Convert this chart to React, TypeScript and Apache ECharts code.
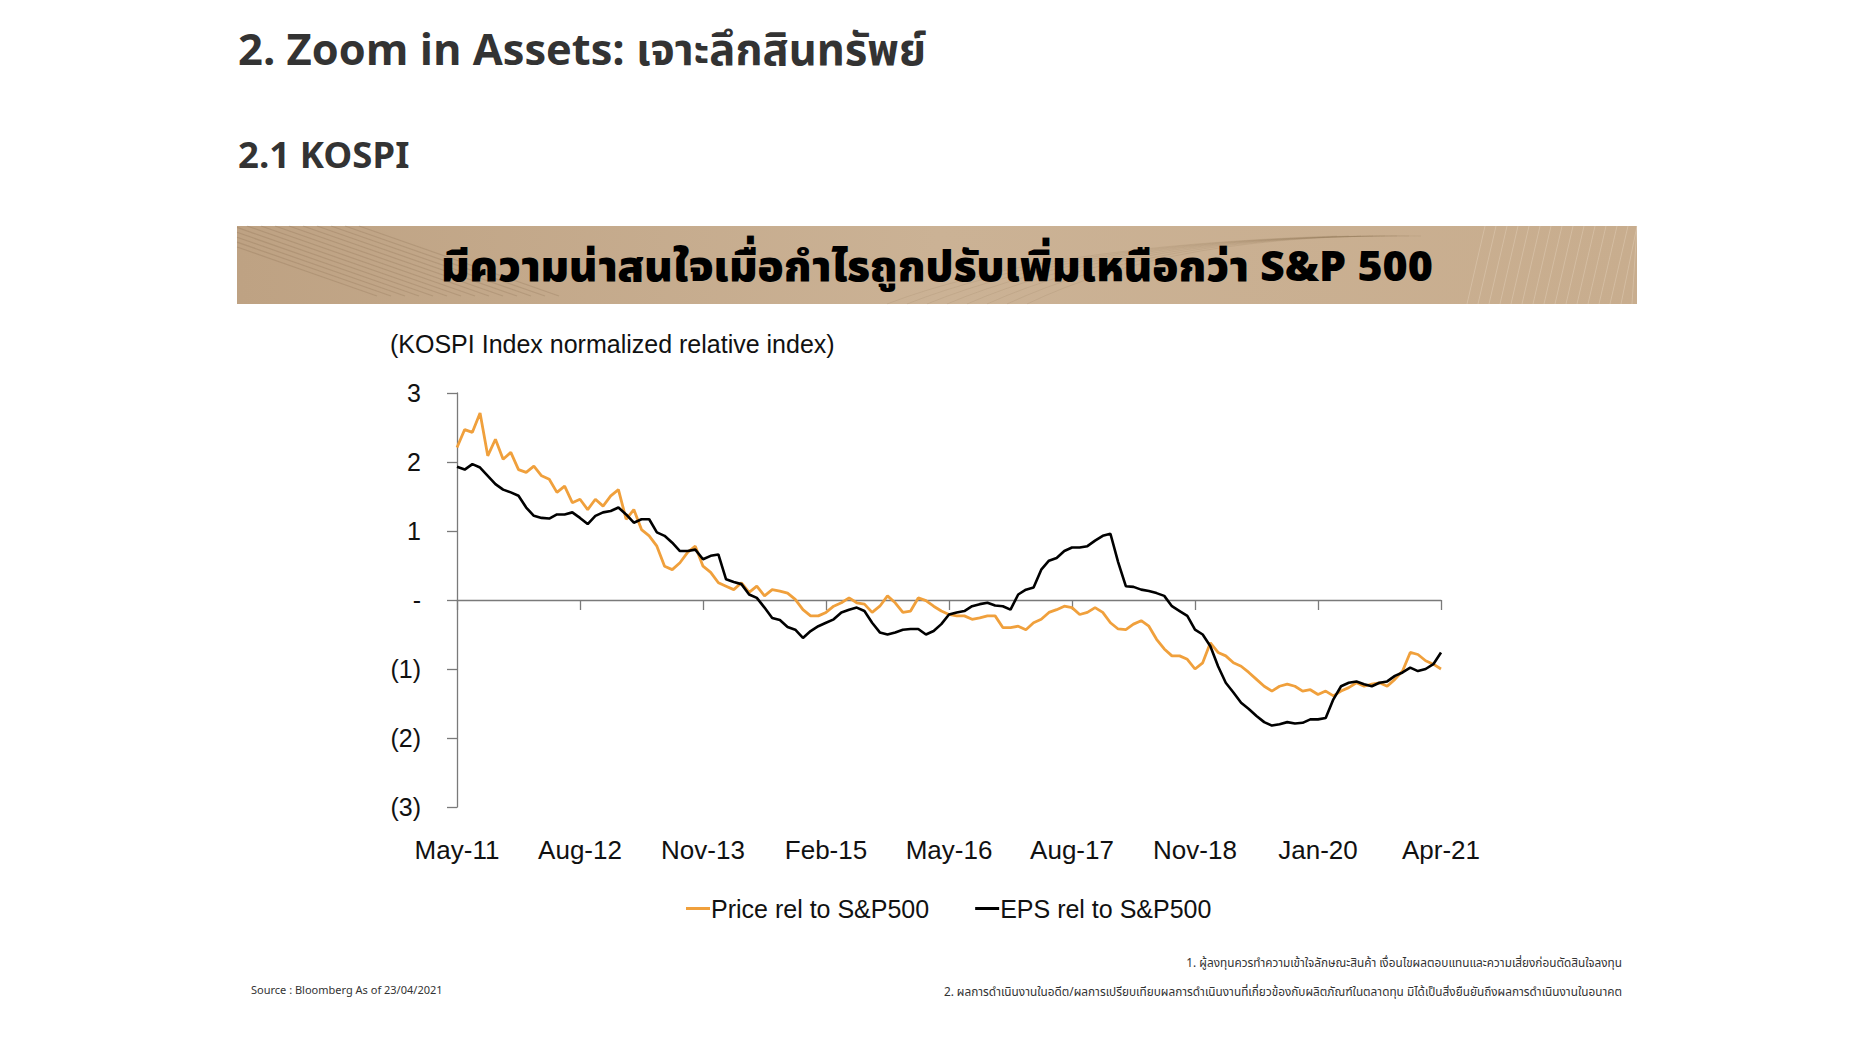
import React, { useEffect, useRef } from 'react';
import * as echarts from 'echarts';

const tickLabels = ['May-11', 'Aug-12', 'Nov-13', 'Feb-15', 'May-16', 'Aug-17', 'Nov-18', 'Jan-20', 'Apr-21'];
const yTickLabels: Record<string, string> = { '3': '3', '2': '2', '1': '1', '0': '-', '-1': '(1)', '-2': '(2)', '-3': '(3)' };
const pointsPerTick = 16;
const seriesNames = ['Price rel to S&P500', 'EPS rel to S&P500'];

const priceRel = [
  2.21, 2.47, 2.43, 2.71, 2.09, 2.33, 2.04, 2.14, 1.89, 1.85, 1.94, 1.80, 1.75, 1.56, 1.65, 1.41,
  1.46, 1.31, 1.46, 1.36, 1.51, 1.60, 1.17, 1.31, 1.02, 0.93, 0.78, 0.49, 0.44, 0.54, 0.69, 0.78,
  0.49, 0.40, 0.25, 0.20, 0.15, 0.25, 0.11, 0.20, 0.06, 0.15, 0.13, 0.10, 0.01, -0.14, -0.23, -0.23,
  -0.18, -0.09, -0.04, 0.03, -0.04, -0.06, -0.18, -0.09, 0.06, -0.04, -0.18, -0.16, 0.03, -0.01, -0.09, -0.16,
  -0.21, -0.23, -0.23, -0.28, -0.26, -0.23, -0.23, -0.40, -0.40, -0.38, -0.43, -0.33, -0.28, -0.18, -0.14, -0.09,
  -0.11, -0.21, -0.18, -0.11, -0.18, -0.33, -0.42, -0.43, -0.35, -0.30, -0.38, -0.57, -0.71, -0.81, -0.81, -0.86,
  -1.00, -0.91, -0.62, -0.76, -0.81, -0.91, -0.96, -1.05, -1.15, -1.25, -1.32, -1.25, -1.22, -1.25, -1.32, -1.30,
  -1.37, -1.32, -1.39, -1.32, -1.27, -1.20, -1.25, -1.22, -1.20, -1.25, -1.15, -1.03, -0.76, -0.79, -0.88, -0.93,
  -1.00,
];

const epsRel = [
  1.93, 1.89, 1.97, 1.92, 1.80, 1.68, 1.60, 1.56, 1.51, 1.34, 1.22, 1.19, 1.18, 1.24, 1.24, 1.27,
  1.19, 1.10, 1.22, 1.27, 1.29, 1.34, 1.24, 1.12, 1.17, 1.17, 0.98, 0.93, 0.83, 0.71, 0.71, 0.73,
  0.59, 0.64, 0.66, 0.30, 0.26, 0.23, 0.08, 0.03, -0.11, -0.26, -0.29, -0.39, -0.43, -0.55, -0.45, -0.38,
  -0.33, -0.28, -0.18, -0.14, -0.11, -0.16, -0.33, -0.47, -0.50, -0.47, -0.43, -0.42, -0.42, -0.50, -0.45, -0.35,
  -0.21, -0.18, -0.16, -0.09, -0.06, -0.04, -0.08, -0.09, -0.14, 0.08, 0.15, 0.18, 0.44, 0.57, 0.61, 0.71,
  0.76, 0.76, 0.78, 0.86, 0.93, 0.96, 0.55, 0.20, 0.19, 0.15, 0.13, 0.10, 0.06, -0.09, -0.16, -0.23,
  -0.43, -0.50, -0.67, -0.96, -1.20, -1.34, -1.49, -1.58, -1.68, -1.77, -1.82, -1.80, -1.77, -1.79, -1.78, -1.73,
  -1.73, -1.71, -1.44, -1.25, -1.20, -1.18, -1.22, -1.25, -1.20, -1.18, -1.10, -1.05, -0.98, -1.03, -1.00, -0.93,
  -0.76,
];

const titleText = '2. Zoom in Assets: เจาะลึกสินทรัพย์';
const subTitleText = '2.1 KOSPI';
const bannerText = 'มีความน่าสนใจเมื่อกำไรถูกปรับเพิ่มเหนือกว่า S&P 500';
const axisTitleText = '(KOSPI Index normalized relative index)';
const sourceText = 'Source : Bloomberg As of 23/04/2021';
const note1 = '1. ผู้ลงทุนควรทำความเข้าใจลักษณะสินค้า เงื่อนไขผลตอบแทนและความเสี่ยงก่อนตัดสินใจลงทุน';
const note2 = '2. ผลการดำเนินงานในอดีต/ผลการเปรียบเทียบผลการดำเนินงานที่เกี่ยวข้องกับผลิตภัณฑ์ในตลาดทุน มิได้เป็นสิ่งยืนยันถึงผลการดำเนินงานในอนาคต';

const W = 1867;
const H = 1037;
const chartFont = '"Liberation Sans", Arial, Helvetica, sans-serif';
const thaiFont = '"Noto Sans Thai", "Noto Sans", Roboto, sans-serif';

function bannerLines() {
  const els: any[] = [];
  const x0 = 237, y0 = 226, w = 1400, h = 78;
  for (let k = 0; k < 14; k++) {
    const sx = x0 - 60 + k * 14;
    els.push({
      type: 'line', silent: true,
      shape: { x1: Math.max(x0, sx), y1: y0 + (Math.max(x0, sx) - sx) * 0.35, x2: sx + 200, y2: y0 + 200 * 0.35 },
      style: { stroke: 'rgba(110,85,55,0.18)', lineWidth: 1.2 },
    });
  }
  for (let k = 0; k < 16; k++) {
    const bx = x0 + w - 170 + k * 11;
    els.push({
      type: 'line', silent: true,
      shape: { x1: bx, y1: y0 + h, x2: Math.min(x0 + w, bx + 18), y2: y0 },
      style: { stroke: 'rgba(255,245,230,0.22)', lineWidth: 1 },
    });
  }
  for (let k = 0; k < 8; k++) {
    els.push({
      type: 'bezierCurve', silent: true,
      shape: { x1: x0 + 650 + k * 20, y1: y0 + h, x2: x0 + 1100 + k * 12, y2: y0 + 10, cpx1: x0 + 800 + k * 20, cpy1: y0 + 20 - k * 2 },
      style: { stroke: 'rgba(120,95,65,0.12)', lineWidth: 1, fill: null },
    });
  }
  return els;
}

export default function App() {
  const ref = useRef<HTMLDivElement>(null);
  useEffect(() => {
    document.body.style.margin = '0';
    if (!ref.current) return;
    const chart = echarts.init(ref.current, undefined, { renderer: 'svg' });
    const toPairs = (arr: number[]) => arr.map((v, i) => [i / pointsPerTick, v]);
    chart.setOption({
      animation: false,
      backgroundColor: '#ffffff',
      grid: { left: 457, top: 393, width: 984, height: 414, containLabel: false },
      legend: {
        data: seriesNames,
        left: 686,
        top: 896,
        icon: 'rect',
        itemWidth: 24,
        itemHeight: 3,
        itemGap: 46,
        padding: 0,
        textStyle: { fontSize: 25, color: '#111', fontFamily: chartFont, padding: [0, 0, 0, -4] },
      },
      xAxis: [
        {
          type: 'value', min: 0, max: 8, interval: 1, position: 'bottom',
          axisLine: { show: false, onZero: false },
          axisTick: { show: false },
          splitLine: { show: false },
          axisLabel: {
            formatter: (v: number) => tickLabels[Math.round(v)] ?? '',
            fontSize: 26, color: '#111', fontFamily: chartFont, margin: 30,
          },
        },
        {
          type: 'value', min: 0, max: 8, interval: 1, position: 'top',
          axisLine: { show: true, onZero: true, lineStyle: { color: '#7a7a7a', width: 1.3 } },
          axisTick: { show: true, inside: true, length: 10, lineStyle: { color: '#7a7a7a', width: 1.3 } },
          splitLine: { show: false },
          axisLabel: { show: false },
        },
      ],
      yAxis: {
        type: 'value', min: -3, max: 3, interval: 1,
        axisLine: { show: true, onZero: false, lineStyle: { color: '#7a7a7a', width: 1.3 } },
        axisTick: { show: true, length: 10, lineStyle: { color: '#7a7a7a', width: 1.3 } },
        splitLine: { show: false },
        axisLabel: {
          formatter: (v: number) => yTickLabels[String(v)] ?? '',
          fontSize: 25, color: '#111', fontFamily: chartFont, margin: 36,
        },
      },
      series: [
        {
          name: seriesNames[0], type: 'line', xAxisIndex: 1, data: toPairs(priceRel),
          showSymbol: false, lineStyle: { color: '#F0A03C', width: 2.8 }, itemStyle: { color: '#F0A03C' },
        },
        {
          name: seriesNames[1], type: 'line', xAxisIndex: 1, data: toPairs(epsRel),
          showSymbol: false, lineStyle: { color: '#000000', width: 2.6 }, itemStyle: { color: '#000000' },
        },
      ],
      graphic: [
        {
          type: 'text', left: 238, top: 30,
          style: { text: titleText, fontSize: 43.5, fontWeight: 'bold', fill: '#333333', fontFamily: thaiFont },
        },
        {
          type: 'text', left: 238, top: 138,
          style: { text: subTitleText, fontSize: 36.5, fontWeight: 'bold', fill: '#333333', fontFamily: thaiFont },
        },
        {
          type: 'rect', left: 237, top: 226, silent: true,
          shape: { width: 1400, height: 78 },
          style: {
            fill: new echarts.graphic.LinearGradient(0, 0, 1, 0, [
              { offset: 0, color: '#bea283' },
              { offset: 0.5, color: '#cbb295' },
              { offset: 1, color: '#c8ad8e' },
            ]),
          },
        },
        ...bannerLines(),
        {
          type: 'text', x: 937, y: 267,
          style: {
            text: bannerText, fontSize: 43, fontWeight: 900, fill: '#000000', fontFamily: thaiFont,
            align: 'center', verticalAlign: 'middle',
          },
        },
        {
          type: 'text', left: 390, top: 331,
          style: { text: axisTitleText, fontSize: 25, fill: '#111', fontFamily: chartFont },
        },
        {
          type: 'text', left: 251, top: 985,
          style: { text: sourceText, fontSize: 11, fill: '#333', fontFamily: thaiFont },
        },
        {
          type: 'text', x: 1622, y: 963,
          style: { text: note1, fontSize: 11.8, fill: '#333', fontFamily: thaiFont, align: 'right', verticalAlign: 'middle' },
        },
        {
          type: 'text', x: 1622, y: 992,
          style: { text: note2, fontSize: 11.8, fill: '#333', fontFamily: thaiFont, align: 'right', verticalAlign: 'middle' },
        },
      ],
    });
    return () => chart.dispose();
  }, []);
  return <div ref={ref} style={{ position: 'fixed', left: 0, top: 0, width: W, height: H }} />;
}
